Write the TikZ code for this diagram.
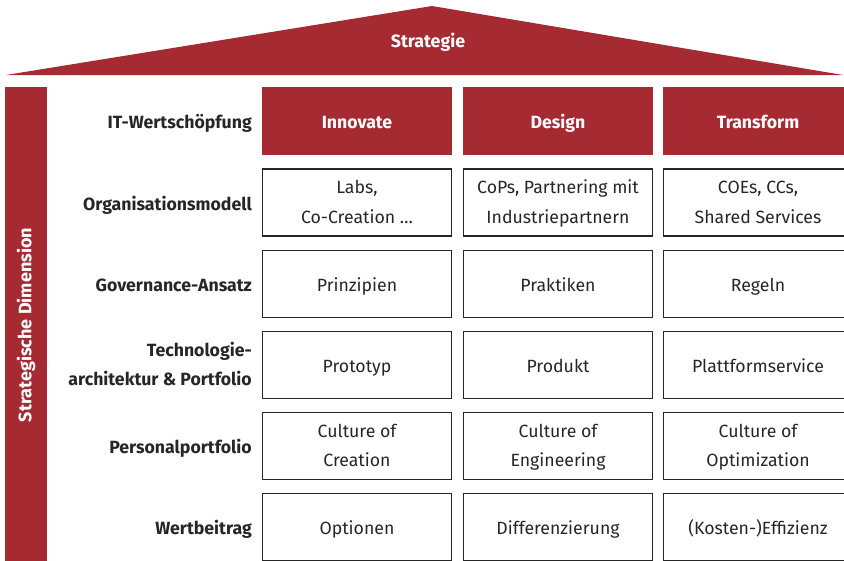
\documentclass[tikz,border=0pt]{standalone}
\usepackage{fontspec}
\setmainfont{Fira Sans}
\definecolor{roofred}{HTML}{A62A32}
\definecolor{ink}{HTML}{262626}
% invisible rule that gives a one-line text a fixed height and depth
\newcommand\cellstrut{\rule[-7pt]{0pt}{29.6pt}}
% two stacked lines, centred or flush right
\newcommand\twolines[2]{\begin{tabular}{@{}c@{}}#1\\#2\end{tabular}}
\newcommand\twolinesr[2]{\begin{tabular}{@{}r@{}}#1\\#2\end{tabular}}
\begin{document}
\begin{tikzpicture}[x=1pt,y=-1pt,
  cellfont/.style={inner sep=0pt, font=\fontsize{17.7}{29.8}\selectfont},
  boldfont/.style={inner sep=0pt, font=\fontsize{17.7}{29.8}\selectfont\bfseries},
  boxed/.style={draw=ink, line width=1.1pt, minimum width=189pt, minimum height=67pt},
  cell/.style={boxed, cellfont, text=ink, execute at begin node=\cellstrut},
  cell2/.style={boxed, cellfont, text=ink},
  head/.style={fill=roofred, minimum width=190pt, minimum height=68pt, boldfont,
    text=white, execute at begin node=\cellstrut},
  rowlabel/.style={anchor=east, boldfont, text=ink,
    execute at begin node=\cellstrut},
  rowlabel2/.style={anchor=east, boldfont, text=ink},
  banner/.style={fill=roofred, text=white, inner sep=0pt,
    font=\fontsize{18}{22}\selectfont\bfseries}]
\clip (0,0) rectangle (844,560);

% roof
\fill[roofred] (6,75) -- (432,6) -- (843,75) -- cycle;
\node[text=white, font=\fontsize{17.8}{22}\selectfont\bfseries] (roof) at (428,42) {Strategie};

% left pillar
\node[banner, rotate=90, minimum width=476pt, minimum height=42pt] (pillar) at (26,325) {Strategische Dimension};

% header row
\node[rowlabel] (l1) at (252,121) {IT-Wertschöpfung};
\node[head] (h1) at (357,121) {Innovate};
\node[head] (h2) at (558,121) {Design};
\node[head] (h3) at (758,121) {Transform};

% row 2
\node[rowlabel] (l2) at (252,202.5) {Organisationsmodell};
\node[cell2] (c21) at (357,202.5) {\twolines{Labs,}{Co-Creation \dots}};
\node[cell2] (c22) at (558,202.5) {\twolines{CoPs, Partnering mit}{Industriepartnern}};
\node[cell2] (c23) at (758,202.5) {\twolines{COEs, CCs,}{Shared Services}};

% row 3
\node[rowlabel] (l3) at (252,284) {Governance-Ansatz};
\node[cell] (c31) at (357,284) {Prinzipien};
\node[cell] (c32) at (558,284) {Praktiken};
\node[cell] (c33) at (758,284) {Regeln};

% row 4
\node[rowlabel2] (l4) at (252,365) {\twolinesr{Technologie-}{architektur \& Portfolio}};
\node[cell] (c41) at (357,365) {Prototyp};
\node[cell] (c42) at (558,365) {Produkt};
\node[cell] (c43) at (758,365) {Plattformservice};

% row 5
\node[rowlabel] (l5) at (252,446) {Personalportfolio};
\node[cell2] (c51) at (357,446) {\twolines{Culture of}{Creation}};
\node[cell2] (c52) at (558,446) {\twolines{Culture of}{Engineering}};
\node[cell2] (c53) at (758,446) {\twolines{Culture of}{Optimization}};

% row 6
\node[rowlabel] (l6) at (252,527) {Wertbeitrag};
\node[cell] (c61) at (357,527) {Optionen};
\node[cell] (c62) at (558,527) {Differenzierung};
\node[cell] (c63) at (758,527) {(Kosten-)Effizienz};
\end{tikzpicture}
\end{document}
